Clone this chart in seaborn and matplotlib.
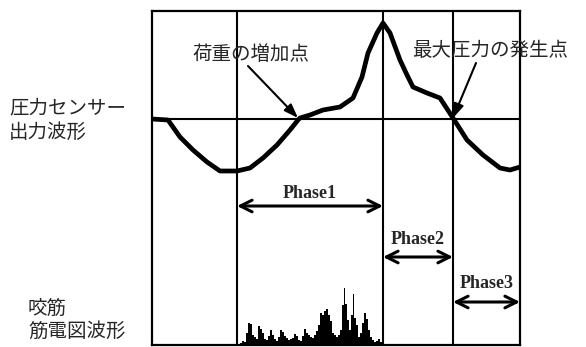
import matplotlib
matplotlib.use("Agg")
import matplotlib.pyplot as plt
import seaborn as sns
import pandas as pd

# Pressure sensor waveform: sample position and deviation from baseline
pressure_t = [0, 16, 28, 41, 55, 68, 85, 98, 111, 125, 138, 146, 148, 158, 171,
              188, 201, 210, 216, 225, 231, 238, 248, 255, 261, 275, 288, 301,
              315, 331, 348, 358, 368]
pressure_v = [0, -1, -18, -31, -43, -52, -52, -49, -39, -26, -11, -1, 1, 4, 9,
              12, 21, 42, 66, 86, 96, 86, 59, 44, 32, 26, 21, 1,
              -21, -36, -49, -51, -48]

# Masseter EMG envelope
emg_t = [85, 87, 89, 91, 93, 95, 97, 99, 101, 103, 105, 107, 109, 111, 113, 115,
         117, 119, 121, 123, 125, 127, 129, 131, 133, 135, 137, 139, 141, 143,
         145, 147, 149, 151, 153, 155, 157, 159, 161, 163, 165, 167, 169, 171,
         173, 175, 177, 179, 181, 183, 185, 187, 189, 191, 192, 194, 196, 198,
         200, 201, 203, 205, 207, 209, 211, 213, 215, 217, 219, 221, 223, 225,
         227, 229, 231]
emg_v = [0, 1, 2, 4, 3, 12, 22, 21, 10, 8, 6, 19, 16, 12, 6, 5,
         9, 15, 10, 6, 4, 8, 15, 13, 9, 7, 5, 6, 7, 11,
         9, 5, 4, 9, 16, 12, 10, 8, 7, 10, 14, 20, 32, 30,
         34, 36, 30, 24, 12, 10, 8, 10, 15, 40, 57, 41, 25, 15,
         30, 51, 27, 20, 8, 12, 22, 32, 26, 15, 8, 5, 3, 4,
         6, 3, 0]

# Phase boundaries (sample positions)
phase_names = ["Phase1", "Phase2", "Phase3"]
phase_edges = [85, 231, 301, 368]

# Labels
pressure_label = "圧力センサー\n出力波形"
emg_label = "咬筋\n筋電図波形"
load_label = "荷重の増加点"
peak_label = "最大圧力の発生点"

sns.set_theme(style="white")
plt.rcParams["font.family"] = ["Noto Sans CJK JP", "DejaVu Sans"]

W, H = 586, 347
fig = plt.figure(figsize=(W / 100, H / 100), dpi=100)
ax = fig.add_axes([152 / W, 2 / H, 368 / W, 334 / H])
ax.set_xlim(0, 368)
ax.set_ylim(0, 334)
ax.set_xticks([])
ax.set_yticks([])
for s in ax.spines.values():
    s.set_linewidth(1.6)
    s.set_color("black")

baseline = 226

# grid of phase boundaries and pressure baseline
ax.axhline(baseline, color="black", lw=1.5)
for x in phase_edges[:-1]:
    ax.axvline(x, color="black", lw=1.5)

df_p = pd.DataFrame({"t": pressure_t, "v": [baseline + v for v in pressure_v]})
sns.lineplot(data=df_p, x="t", y="v", ax=ax, color="black", lw=3.4, sort=False,
             solid_joinstyle="round", solid_capstyle="round")

ax.fill_between(emg_t, 0, emg_v, step="mid", color="black", lw=0)

ax.set_xlabel("")
ax.set_ylabel("")


def px(x, y):
    return x - 152, 345 - y


# Phase arrows
arrow_y = [206, 257, 302]
text_y = [193, 240, 283]
for i, name in enumerate(phase_names):
    x0, x1 = phase_edges[i], phase_edges[i + 1]
    ya = 345 - arrow_y[i]
    ax.annotate("", xy=(x0, ya), xytext=(x1, ya),
                arrowprops=dict(arrowstyle="<->,head_length=0.7,head_width=0.35",
                                color="black", lw=2.2, shrinkA=0, shrinkB=0))
    ax.text((x0 + x1) / 2, 345 - text_y[i], name, ha="center", va="center",
            fontsize=13, fontweight="bold", family="Liberation Serif")

# Callouts
tx, ty = px(192, 55)
ax.text(tx, ty, load_label, ha="left", va="center", fontsize=14, clip_on=False)
ax.annotate("", xy=px(298, 118), xytext=px(248, 66),
            arrowprops=dict(arrowstyle="-|>,head_length=0.7,head_width=0.25",
                            color="black", lw=1.5, shrinkA=0, shrinkB=0))

tx, ty = px(412, 50)
ax.text(tx, ty, peak_label, ha="left", va="center", fontsize=14, clip_on=False)
ax.annotate("", xy=px(453, 118), xytext=px(476, 63),
            arrowprops=dict(arrowstyle="-|>,head_length=0.7,head_width=0.25",
                            color="black", lw=1.5, shrinkA=0, shrinkB=0))

# Side labels
fig.text(9 / W, 1 - 120 / H, pressure_label, ha="left", va="center",
         fontsize=14, linespacing=1.2)
fig.text(28 / W, 1 - 320 / H, emg_label, ha="left", va="center",
         fontsize=14, linespacing=1.15)

fig.savefig("out.png", dpi=100, facecolor="white")
